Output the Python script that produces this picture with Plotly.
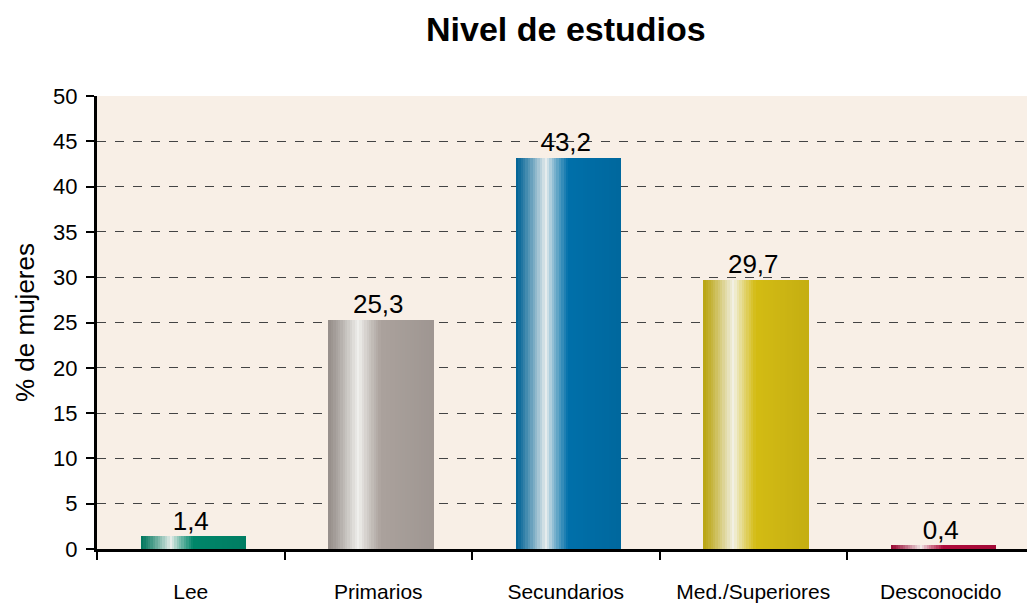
import plotly.graph_objects as go

categories = ["Lee", "Primarios", "Secundarios", "Med./Superiores", "Desconocido"]
values = [1.4, 25.3, 43.2, 29.7, 0.4]
base_colors = ["#00876a", "#aba29d", "#0070aa", "#d4bc14", "#b00c3c"]
y_ticks = list(range(0, 51, 5))

FONT = "Liberation Sans Narrow, Arial Narrow, Liberation Sans, sans-serif"
BAR_W = 0.56
SHIFT = 0.014
N = 44


def hex2rgb(h):
    h = h.lstrip("#")
    return [int(h[i:i + 2], 16) for i in (0, 2, 4)]


def mix(a, b, f):
    return [a[i] + (b[i] - a[i]) * f for i in range(3)]


def shade(base, t):
    c = hex2rgb(base)
    white = [246, 246, 243]
    dark = [v * 0.88 for v in c]
    if t < 0.29:
        f = (t / 0.29) ** 1.2
        col = mix(dark, white, f * 0.96)
    elif t < 0.5:
        f = (t - 0.29) / 0.21
        col = mix(mix(dark, white, 0.96), c, f ** 0.8)
    else:
        f = (t - 0.5) / 0.5
        col = mix(c, [v * 0.93 for v in c], f)
    return "rgb(%d,%d,%d)" % tuple(int(max(0, min(255, v))) for v in col)


fig = go.Figure()
sw = BAR_W / N
for k in range(N):
    t = (k + 0.5) / N
    fig.add_trace(go.Bar(
        x=categories, y=values,
        width=sw * 1.08, offset=-BAR_W / 2 + SHIFT + k * sw,
        marker=dict(color=[shade(c, t) for c in base_colors], line=dict(width=0)),
        hoverinfo="skip", showlegend=False,
    ))

fig.add_trace(go.Scatter(
    x=categories, y=values, mode="text",
    text=[f"{v:.1f}".replace(".", ",") for v in values],
    textposition="top center",
    textfont=dict(family=FONT, size=26, color="black"),
    hoverinfo="skip", showlegend=False,
))

fig.update_layout(
    width=1027, height=605,
    margin=dict(l=97, r=0, t=96, b=56),
    paper_bgcolor="white", plot_bgcolor="#f8efe6",
    barmode="overlay", bargap=0,
    font=dict(family=FONT, color="black"),
    title=dict(text="<b>Nivel de estudios</b>", x=0.551, xanchor="center",
               y=0.952, yanchor="middle",
               font=dict(family=FONT, size=34, color="black")),
)
fig.update_xaxes(
    type="category", range=[-0.5, 4.46], tickson="boundaries",
    ticks="outside", ticklen=8, tickwidth=2, tickcolor="black",
    showline=True, linecolor="black", linewidth=3,
    showgrid=False, ticklabelstandoff=22, automargin=False,
    tickfont=dict(family=FONT, size=21, color="black"),
)
fig.update_yaxes(
    range=[0, 50], tickvals=y_ticks,
    ticks="outside", ticklen=8, tickwidth=2, tickcolor="black",
    showline=True, linecolor="black", linewidth=3,
    showgrid=True, gridcolor="#444444", gridwidth=1, griddash="dash",
    zeroline=False, ticklabelstandoff=4, automargin=False,
    tickfont=dict(family=FONT, size=22, color="black"),
    title=dict(text="% de mujeres", font=dict(family=FONT, size=26, color="black"), standoff=12),
)

fig.write_html("out.html", config={"displayModeBar": False},
               post_script="document.body.style.margin='0';document.body.style.overflow='hidden';")
